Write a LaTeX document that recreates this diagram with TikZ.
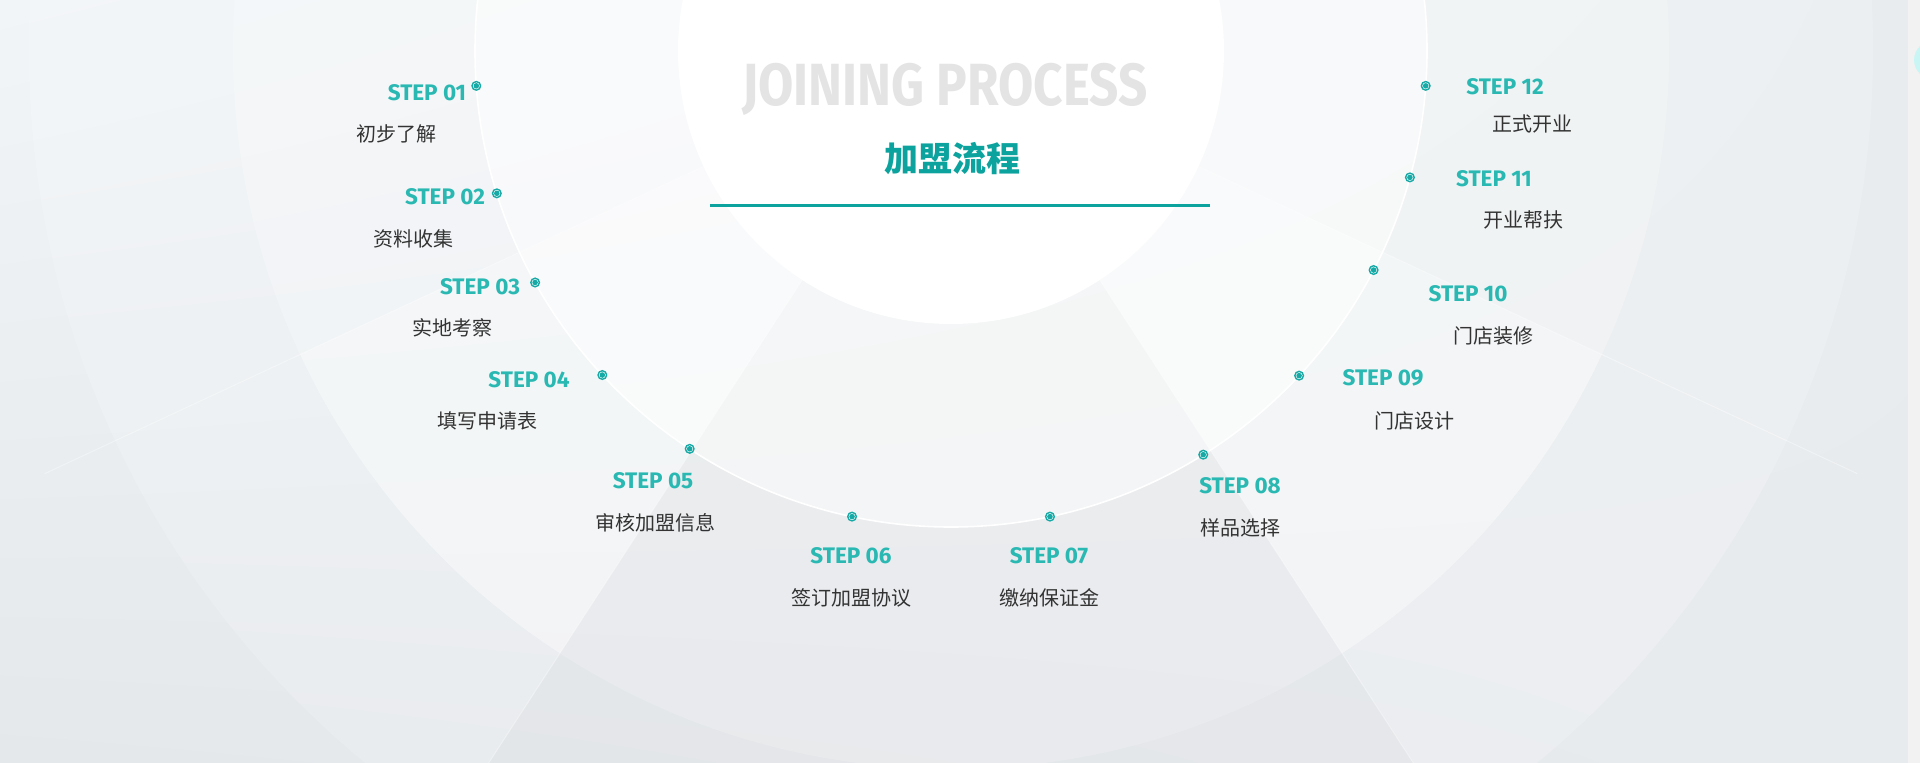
\documentclass[tikz,border=0pt]{standalone}
\usepackage{fontspec}
\setmainfont{Fira Sans}
\newfontfamily\cjk{Noto Sans CJK SC}
\newfontfamily\headfont{Fira Sans}[FakeStretch=0.86]
\usetikzlibrary{positioning, shadings}
\definecolor{bgul}{HTML}{F1F5F8}
\definecolor{bgur}{HTML}{E9ECEF}
\definecolor{bgll}{HTML}{E4E8EB}
\definecolor{bglr}{HTML}{E8EBEE}
\definecolor{stepteal}{HTML}{2AB8B3}
\definecolor{titleteal}{HTML}{0CA39E}
\definecolor{dotteal}{HTML}{16A9A5}
\definecolor{labelgray}{HTML}{333333}
\definecolor{headgray}{HTML}{E4E4E4}
\definecolor{edgegray}{HTML}{F2F2F2}
\definecolor{cornercyan}{HTML}{C9F6F4}
\tikzset{
    steplabel/.style={font=\fontsize{22.5}{26}\selectfont\bfseries, text=stepteal, inner sep=0},
    namelabel/.style={font=\cjk\fontsize{20}{24}\selectfont, text=labelgray, inner sep=0},
    dotmark/.style={circle, inner sep=0, minimum size=8.6pt, draw=dotteal, line width=1.4pt, fill=white,
        path picture={\fill[dotteal] (path picture bounding box.center) circle (2.8pt);}},
    sepline/.style={white, line width=1pt, opacity=.35}
}

\begin{document}
\begin{tikzpicture}[x=1pt, y=-1pt]
    \useasboundingbox (0,0) rectangle (1920,763);
    \clip (0,0) rectangle (1920,763);
    \shade[upper left=bgul, upper right=bgur, lower left=bgll, lower right=bglr] (0,0) rectangle (1920,763);

    \coordinate (c) at (951,51);
    \fill[white, opacity=.18] (c) circle (922);
    \fill[white, opacity=.22] (c) circle (718);
    \fill[white, opacity=.25] (c) -- ++(155:718) arc[start angle=155, end angle=123, radius=718] -- cycle;
    \fill[white, opacity=.25] (c) -- ++(57:718) arc[start angle=57, end angle=25, radius=718] -- cycle;
    \fill[black, opacity=.025] (c) -- ++(123:1000) arc[start angle=123, end angle=57, radius=1000] -- cycle;
    \fill[white, opacity=.5] (c) circle (476);
    \draw[white, line width=1.6pt] (c) circle (476);
    \foreach \a in {155,123,57,25}
        \draw[sepline] ([shift={(\a:273)}]c) -- ([shift={(\a:1000)}]c);
    \fill[white] (c) circle (273);

    \fill[edgegray] (1908,0) rectangle (1920,763);
    \fill[cornercyan] (1933,60) circle (19);

    \node[font=\headfont\fontsize{59.5}{60}\selectfont\bfseries, text=headgray, inner sep=0] (head) at (945,89.5) {JOINING PROCESS};
    \node[font=\cjk\fontsize{34}{40}\selectfont\bfseries, text=titleteal, inner sep=0] (title) at (952,158.5) {加盟流程};
    \draw[titleteal, line width=2.5pt] (710,205.7) -- (1210,205.7);

    \foreach \n/\a/\sx/\sy/\cx/\cy/\txt in {
        01/175.8/427/93/396/134/初步了解,
        02/162.6/445/197/413/239/资料收集,
        03/150.9/480/287/452/328/实地考察,
        04/137.1/529/380/487/421/填写申请表,
        05/123.3/653/481/655/523/审核加盟信息,
        06/102/851/556/851/598/签订加盟协议,
        07/78/1049/556/1049/598/缴纳保证金,
        08/58/1240/486/1240/528/样品选择,
        09/43/1383/378/1414/421/门店设计,
        10/27.4/1468/294/1493/336/门店装修,
        11/15.4/1494/179/1523/220/开业帮扶,
        12/4.2/1505/87/1532/124/正式开业}{
        \node[dotmark] (dot\n) at ([shift={(\a:476)}]c) {};
        \node[steplabel] (step\n) at (\sx,\sy) {STEP \n};
        \node[namelabel] (name\n) at (\cx,\cy) {\txt};
    }
\end{tikzpicture}
\end{document}
